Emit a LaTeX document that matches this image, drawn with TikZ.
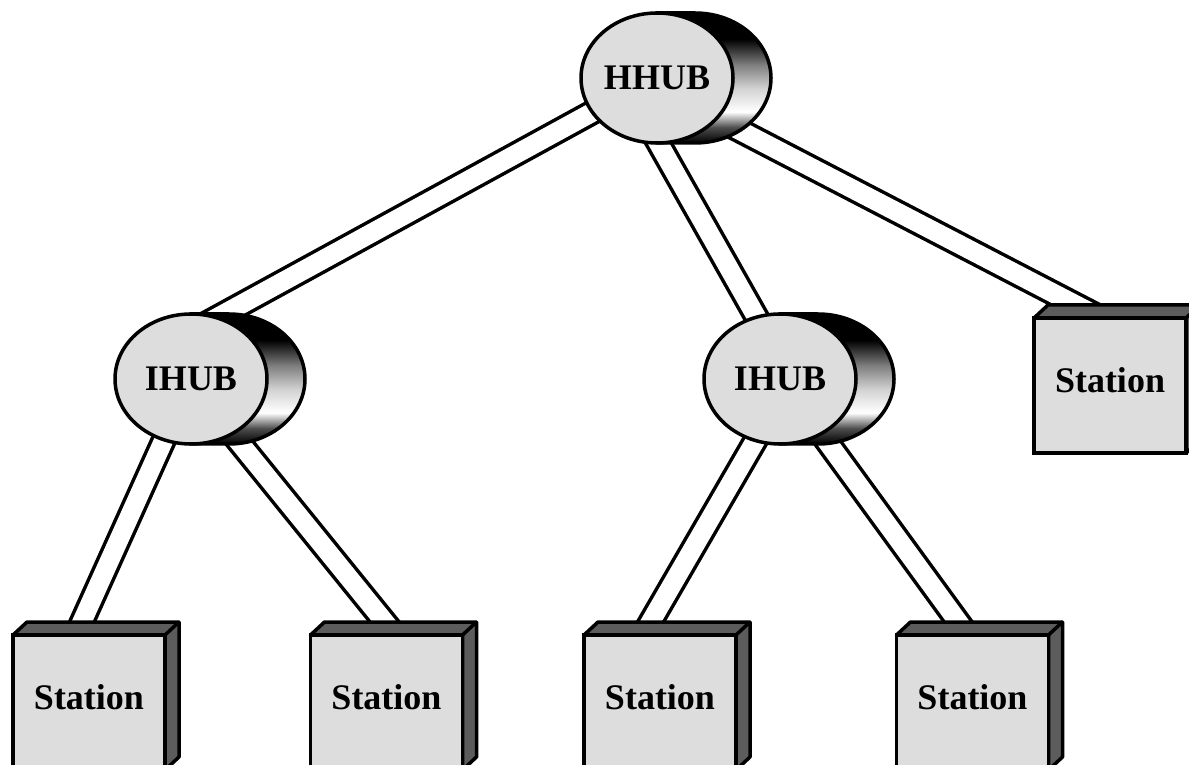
\documentclass[tikz,border=0pt]{standalone}
\usepackage{fontspec}
\setmainfont{Liberation Serif}
\usepackage{tikz}
\usetikzlibrary{shapes.geometric,calc,backgrounds}

\definecolor{facegray}{RGB}{221,221,221}
\definecolor{sidegray}{RGB}{92,92,92}
\pgfdeclareverticalshading{hubshade}{100bp}{color(0bp)=(black); color(25bp)=(black); color(31bp)=(gray!60!black); color(37bp)=(white); color(46bp)=(gray!35); color(55bp)=(gray); color(65bp)=(black); color(100bp)=(black)}

\tikzset{
  hub/.style={ellipse, draw, line width=3.5pt, fill=facegray, minimum width=152pt, minimum height=130pt, inner sep=0pt, font=\bfseries\fontsize{36}{40}\selectfont},
  hubback/.style={draw, line width=3.5pt, shade, shading=hubshade},
  station/.style={rectangle, draw, line width=3.5pt, fill=facegray, minimum width=152pt, minimum height=135pt, inner sep=0pt, text depth=10pt, font=\bfseries\fontsize{36}{40}\selectfont},
  boxside/.style={draw, line width=3.5pt, fill=sidegray, line join=round},
  link/.style={draw, line width=3.5pt, double=white, double distance=19pt, shorten <=-20pt, shorten >=-20pt}
}

\newcommand\hubat[3]{%
  \path[hubback] ($(#2)+(0,65)$) -- ++(38,0) arc[start angle=90, end angle=-90, x radius=76pt, y radius=65pt] -- ++(-38,0) -- cycle;
  \node[hub] (#1) at (#2) {#3};
}
\newcommand\stationat[3]{%
  \path[boxside] ($(#2)+(-76,67.5)$) -- ++(14,13) -- ++(152,0) -- ++(0,-135) -- ++(-14,-13) -- ++(0,135) -- cycle;
  \draw[line width=3.5pt] ($(#2)+(76,67.5)$) -- ++(14,13);
  \node[station] (#1) at (#2) {#3};
}

\begin{document}
\begin{tikzpicture}[x=1pt,y=1pt]
  \useasboundingbox (0,0) rectangle (1189,764);
  \clip (0,0) rectangle (1189,764);

  \hubat{hhub}{657,686}{HHUB}
  \hubat{ihubl}{191,385}{IHUB}
  \hubat{ihubr}{780,385}{IHUB}

  \stationat{st1}{89,61.5}{Station}
  \stationat{st2}{386.5,61.5}{Station}
  \stationat{st3}{660,61.5}{Station}
  \stationat{st4}{972.5,61.5}{Station}
  \stationat{st5}{1110,378.5}{Station}

  \begin{scope}[on background layer]
    \draw[link] (hhub.208) -- (ihubl.66);
    \draw[link] (hhub.272) -- (ihubr.111);
    \draw[link] (hhub.326) -- (st5.100);
    \draw[link] (ihubl.246) -- (st1.100);
    \draw[link] (ihubl.307) -- (st2.84);
    \draw[link] (ihubr.248) -- (st3.103);
    \draw[link] (ihubr.307) -- (st4.95);
  \end{scope}
\end{tikzpicture}
\end{document}
